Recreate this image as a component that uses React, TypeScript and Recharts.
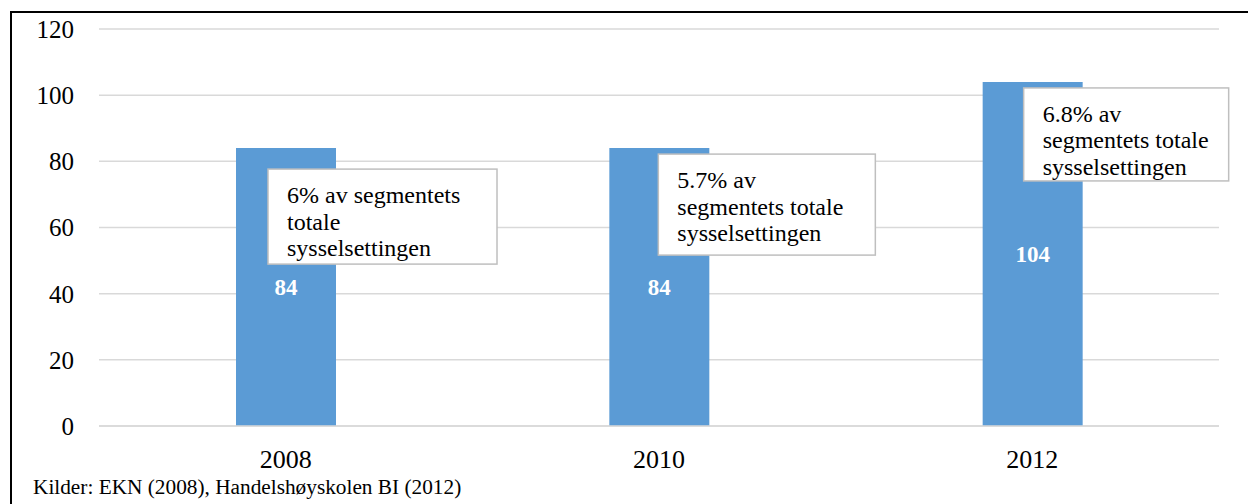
import React from "react";
import { BarChart, Bar, XAxis, YAxis, CartesianGrid, LabelList } from "recharts";

const YEARS = ["2008", "2010", "2012"];
const EMPLOYED = [84, 84, 104];
const SHARE_NOTES = [
  ["6% av segmentets", "totale", "sysselsettingen"],
  ["5.7% av", "segmentets totale", "sysselsettingen"],
  ["6.8% av", "segmentets totale", "sysselsettingen"],
];
const Y_TICKS = [0, 20, 40, 60, 80, 100, 120];
const SOURCE = "Kilder: EKN (2008), Handelshøyskolen BI (2012)";

// note boxes sit relative to the top-left corner of their bar
const NOTE_BOXES = [
  { dx: 32, dy: 21, w: 229, h: 95 },
  { dx: 49, dy: 6, w: 217, h: 101 },
  { dx: 41, dy: 6, w: 205, h: 93 },
];

const FONT = "Times New Roman, Liberation Serif, serif";

const data = YEARS.map((year, i) => ({ year, value: EMPLOYED[i] }));

const YTick = (props: any) => {
  const { x, y, payload } = props;
  return (
    <text
      x={x}
      y={y}
      dy="0.355em"
      textAnchor="end"
      fill="#000"
      fontSize={25}
      fontFamily={FONT}
    >
      {payload.value}
    </text>
  );
};

const NoteBox = (props: any) => {
  const { x, y, index } = props;
  const box = NOTE_BOXES[index];
  const lines = SHARE_NOTES[index];
  if (!box || !lines) return null;
  const bx = Number(x) + box.dx;
  const by = Number(y) + box.dy;
  return (
    <g>
      <rect
        x={bx}
        y={by}
        width={box.w}
        height={box.h}
        fill="#ffffff"
        stroke="#bfbfbf"
        strokeWidth={1.5}
      />
      {lines.map((line, i) => (
        <text
          key={i}
          x={bx + 19}
          y={by + 34 + i * 26.5}
          fill="#000"
          fontSize={24}
          fontFamily={FONT}
        >
          {line}
        </text>
      ))}
    </g>
  );
};

export default function App() {
  return (
    <div
      style={{
        position: "absolute",
        left: 0,
        top: 0,
        width: 1248,
        height: 504,
        background: "#fff",
        overflow: "hidden",
        fontFamily: FONT,
      }}
    >
      <div
        style={{
          position: "absolute",
          left: 10,
          top: 11,
          width: 1400,
          height: 600,
          borderTop: "2px solid #000",
          borderLeft: "2px solid #000",
        }}
      />
      <BarChart
        width={1248}
        height={504}
        data={data}
        margin={{ top: 29, right: 29, left: 0, bottom: 38 }}
        style={{ position: "absolute", left: 0, top: 0, fontFamily: FONT }}
      >
        <CartesianGrid vertical={false} stroke="#d9d9d9" strokeWidth={1.5} />
        <XAxis
          dataKey="year"
          height={40}
          axisLine={{ stroke: "#d9d9d9", strokeWidth: 1.5 }}
          tickLine={false}
          tickMargin={18}
          tick={{ fill: "#000", fontSize: 26, fontFamily: FONT }}
        />
        <YAxis
          width={99}
          domain={[0, 120]}
          ticks={Y_TICKS}
          axisLine={false}
          tickLine={false}
          tickMargin={19}
          tick={<YTick />}
        />
        <Bar dataKey="value" fill="#5b9bd5" barSize={100} isAnimationActive={false}>
          <LabelList
            dataKey="value"
            position="center"
            fill="#fff"
            fontSize={23}
            fontWeight="bold"
            fontFamily={FONT}
          />
          <LabelList dataKey="value" content={NoteBox} />
        </Bar>
      </BarChart>
      <div
        style={{
          position: "absolute",
          left: 33,
          top: 475,
          fontSize: 21.3,
          fontFamily: FONT,
          color: "#000",
          whiteSpace: "nowrap",
        }}
      >
        {SOURCE}
      </div>
    </div>
  );
}
